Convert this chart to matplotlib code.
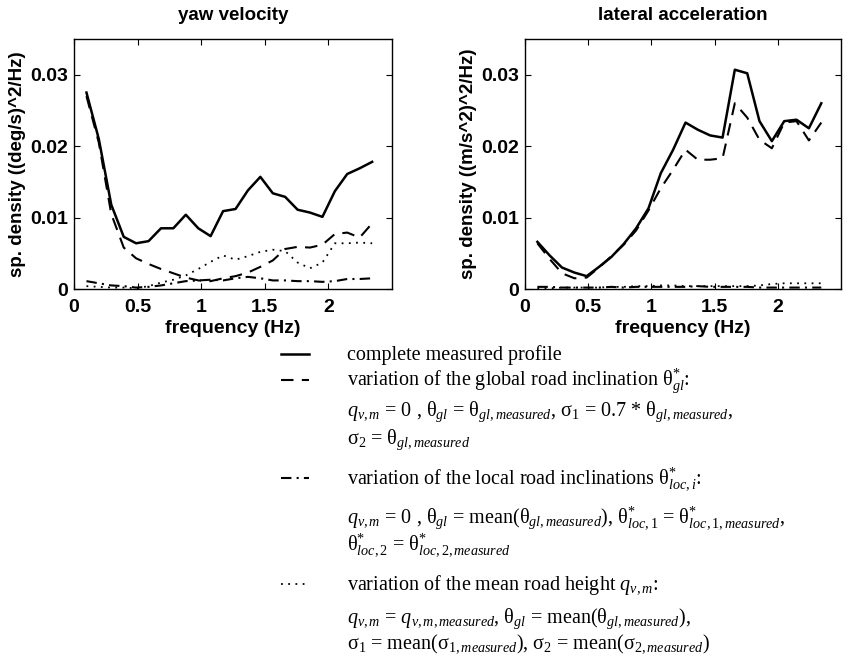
import matplotlib
matplotlib.use("Agg")
import matplotlib.pyplot as plt
from matplotlib.lines import Line2D

plt.rcParams['mathtext.fontset'] = 'custom'
plt.rcParams['mathtext.rm'] = 'Liberation Serif'
plt.rcParams['mathtext.it'] = 'Liberation Serif:italic'
plt.rcParams['mathtext.bf'] = 'Liberation Serif:bold'

# ---------------- data ----------------
freq = [0.098, 0.195, 0.293, 0.391, 0.488, 0.586, 0.684, 0.781, 0.879, 0.977,
        1.074, 1.172, 1.270, 1.367, 1.465, 1.563, 1.660, 1.758, 1.855, 1.953,
        2.051, 2.148, 2.246, 2.344]

yaw_complete = [0.0275, 0.0210, 0.0118, 0.0073, 0.0064, 0.0067, 0.0085, 0.0085, 0.0104, 0.0085,
                0.0074, 0.0109, 0.0112, 0.0138, 0.0157, 0.0134, 0.0129, 0.0111, 0.0107, 0.0101,
                0.0137, 0.0161, 0.0169, 0.0178]
yaw_global = [0.0270, 0.0205, 0.0105, 0.0058, 0.0043, 0.0035, 0.0028, 0.0022, 0.0016, 0.0012,
              0.0011, 0.0015, 0.0018, 0.0023, 0.0031, 0.0040, 0.0056, 0.0059, 0.0058, 0.0062,
              0.0077, 0.0079, 0.0072, 0.0092]
yaw_local = [0.0011, 0.0008, 0.0005, 0.0004, 0.0002, 0.0003, 0.0005, 0.0008, 0.0011, 0.0012,
             0.0013, 0.0012, 0.0015, 0.0017, 0.0015, 0.0012, 0.0012, 0.0011, 0.0011, 0.0010,
             0.0011, 0.0014, 0.0014, 0.0015]
yaw_mean = [0.0004, 0.0003, 0.0002, 0.0002, 0.0001, 0.0004, 0.0009, 0.0013, 0.0019, 0.0028,
            0.0038, 0.0047, 0.0041, 0.0046, 0.0052, 0.0055, 0.0053, 0.0037, 0.0029, 0.0037,
            0.0064, 0.0064, 0.0065, 0.0064]

lat_complete = [0.0066, 0.0047, 0.0030, 0.0023, 0.0018, 0.0031, 0.0045, 0.0063, 0.0085, 0.0113,
                0.0162, 0.0195, 0.0233, 0.0223, 0.0215, 0.0212, 0.0307, 0.0302, 0.0235, 0.0207,
                0.0235, 0.0237, 0.0225, 0.0260]
lat_global = [0.0064, 0.0042, 0.0022, 0.0015, 0.0016, 0.0030, 0.0046, 0.0062, 0.0082, 0.0110,
              0.0141, 0.0167, 0.0195, 0.0181, 0.0181, 0.0183, 0.0260, 0.0240, 0.0209, 0.0197,
              0.0233, 0.0235, 0.0208, 0.0233]
lat_local = [0.0003, 0.0003, 0.0002, 0.0002, 0.0002, 0.0002, 0.0003, 0.0002, 0.0003, 0.0003,
             0.0003, 0.0003, 0.0003, 0.0004, 0.0003, 0.0003, 0.0003, 0.0003, 0.0002, 0.0002,
             0.0002, 0.0002, 0.0002, 0.0002]
lat_mean = [0.0001, 0.0001, 0.0002, 0.0002, 0.0002, 0.0002, 0.0003, 0.0003, 0.0004, 0.0004,
            0.0005, 0.0005, 0.0004, 0.0004, 0.0004, 0.0004, 0.0004, 0.0004, 0.0005, 0.0007,
            0.0008, 0.0008, 0.0008, 0.0008]

titles = ["yaw velocity", "lateral acceleration"]
ylabels = ["sp. density ((deg/s)^2/Hz)", "sp. density ((m/s^2)^2/Hz)"]
xlabel = "frequency (Hz)"
xticks = [0, 0.5, 1, 1.5, 2]
xticklabels = ["0", "0.5", "1", "1.5", "2"]
yticks = [0, 0.01, 0.02, 0.03]
yticklabels = ["0", "0.01", "0.02", "0.03"]

TH = r"\mathrm{\theta}"
SG = r"\mathrm{\sigma}"
legend_rows = [
    "complete measured profile",
    r"variation of the global road inclination $%s^{*}_{gl}$:" % TH,
    r"$q_{v,m}$ = 0 , $%s_{gl}$ = $%s_{gl,measured}$, $%s_{1}$ = 0.7 * $%s_{gl,measured}$," % (TH, TH, SG, TH),
    r"$%s_{2}$ = $%s_{gl,measured}$" % (SG, TH),
    r"variation of the local road inclinations $%s^{*}_{loc,i}$:" % TH,
    r"$q_{v,m}$ = 0 , $%s_{gl}$ = mean($%s_{gl,measured}$), $%s^{*}_{loc,1}$ = $%s^{*}_{loc,1,measured}$," % (TH, TH, TH, TH),
    r"$%s^{*}_{loc,2}$ = $%s^{*}_{loc,2,measured}$" % (TH, TH),
    r"variation of the mean road height $q_{v,m}$:",
    r"$q_{v,m}$ = $q_{v,m,measured}$, $%s_{gl}$ = mean($%s_{gl,measured}$)," % (TH, TH),
    r"$%s_{1}$ = mean($%s_{1,measured}$), $%s_{2}$ = mean($%s_{2,measured}$)" % (SG, SG, SG, SG),
]
legend_row_y = [360, 386, 416, 444, 484, 523, 550, 590, 623, 648]  # baselines, px from top
legend_sample_rows = [0, 1, 4, 7]

# ---------------- styles ----------------
W, H = 867, 662
styles = [
    dict(color="black", lw=1.8, linestyle="-"),
    dict(color="black", lw=1.5, linestyle=(0, (6, 4))),
    dict(color="black", lw=1.5, linestyle=(0, (5, 2.5, 1, 2.5))),
    dict(color="black", lw=1.3, linestyle=(0, (1, 3))),
]
axfont = dict(family="Liberation Sans", weight="bold")

fig = plt.figure(figsize=(W / 100, H / 100), dpi=100)
ax_boxes = [(74, 39, 392, 289), (525, 39, 841, 289)]
series = [(yaw_complete, yaw_global, yaw_local, yaw_mean),
          (lat_complete, lat_global, lat_local, lat_mean)]

for i, (x0, y0, x1, y1) in enumerate(ax_boxes):
    ax = fig.add_axes([x0 / W, 1 - y1 / H, (x1 - x0) / W, (y1 - y0) / H])
    for vals, st in zip(series[i], styles):
        ax.plot(freq, vals, **st)
    ax.set_xlim(0, 2.5)
    ax.set_ylim(0, 0.035)
    ax.set_xticks(xticks)
    ax.set_xticklabels(xticklabels, fontsize=14, **axfont)
    ax.set_yticks(yticks)
    ax.set_yticklabels(yticklabels, fontsize=14, **axfont)
    ax.tick_params(direction="in", length=4, width=0.8, top=True, right=True, pad=4)
    ax.tick_params(axis="x", pad=7)
    for sp in ax.spines.values():
        sp.set_linewidth(1.0)
    ax.set_title(titles[i], fontsize=13.5, pad=14, **axfont)
    ax.set_xlabel(xlabel, fontsize=14, labelpad=3, **axfont)
    ax.set_ylabel(ylabels[i], fontsize=13.5, labelpad=3, **axfont)

# ---------------- legend ----------------
for k, txt in enumerate(legend_rows):
    fig.text(347 / W, 1 - legend_row_y[k] / H, txt, fontsize=14.5,
             family="Liberation Serif", va="baseline", ha="left")

for st, r in zip(styles, legend_sample_rows):
    yy = 1 - (legend_row_y[r] - 6) / H
    fig.add_artist(Line2D([281 / W, 309 / W], [yy, yy], transform=fig.transFigure, **st))

fig.savefig("out.png", dpi=100)
